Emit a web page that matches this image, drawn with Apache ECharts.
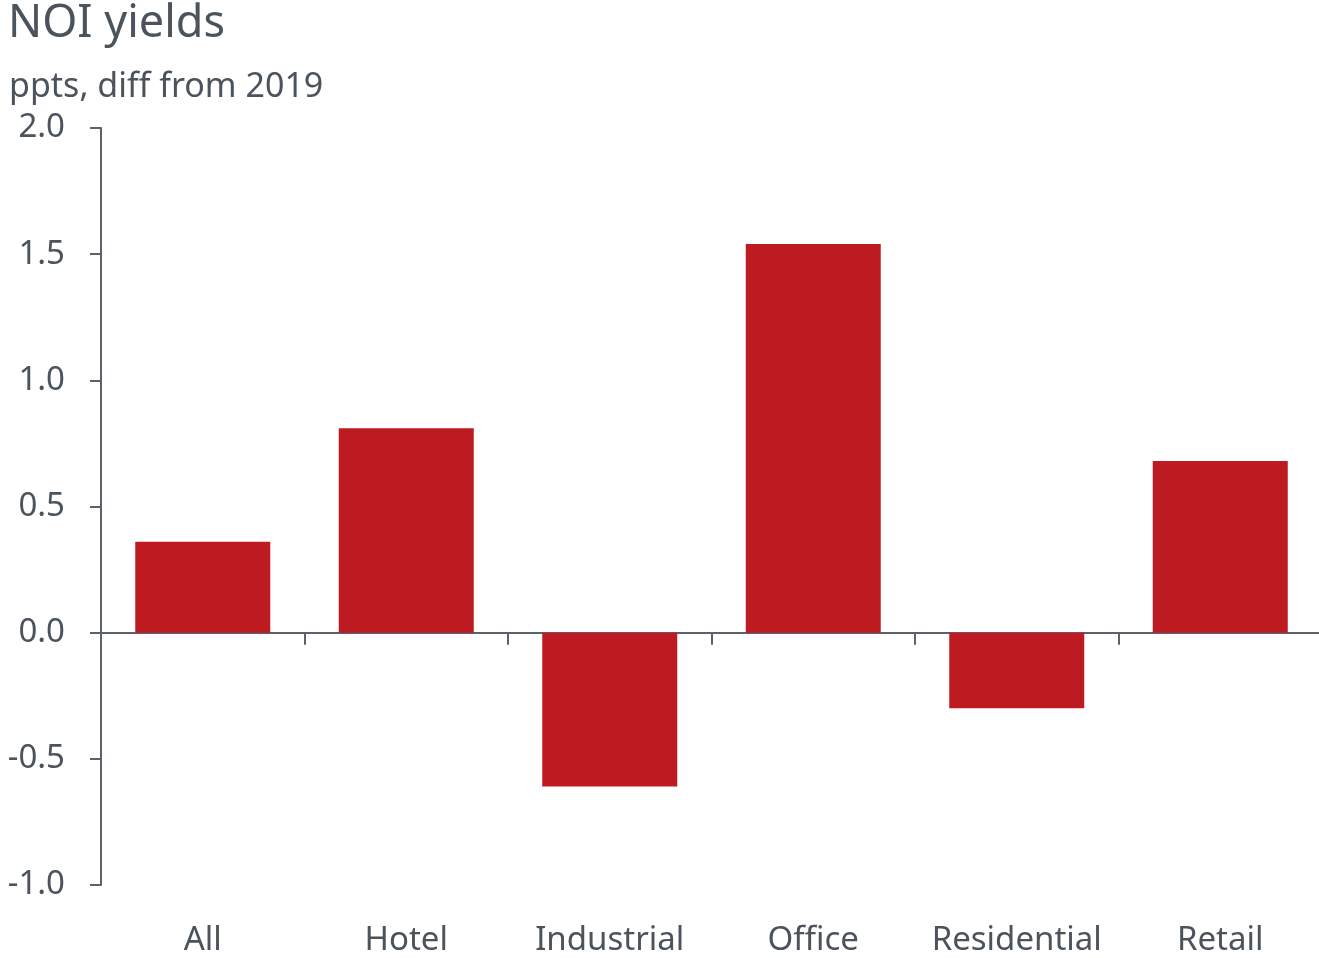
<!DOCTYPE html>
<html>
<head>
<meta charset="utf-8">
<script src="https://cdn.jsdelivr.net/npm/echarts@6/dist/echarts.min.js"></script>
<style>
html,body{margin:0;padding:0;background:#fff;overflow:hidden;}
#chart{width:1325px;height:958px;}
</style>
</head>
<body>
<div id="chart"></div>
<script>
const categories = ['All', 'Hotel', 'Industrial', 'Office', 'Residential', 'Retail'];
const values = [0.36, 0.81, -0.61, 1.54, -0.30, 0.68];
const yTicks = [-1.0, -0.5, 0.0, 0.5, 1.0, 1.5, 2.0];

const textColor = '#4b535c';
const axisColor = '#5b6269';
const fontFamily = '"Noto Sans", "Open Sans", sans-serif';

const chart = echarts.init(document.getElementById('chart'));
chart.setOption({
  backgroundColor: '#ffffff',
  animation: false,
  title: [
    { text: 'NOI yields', left: 3, top: -3,
      textStyle: { fontFamily, fontSize: 45, fontWeight: 'normal', color: textColor } },
    { text: 'ppts, diff from 2019', left: 4, top: 65,
      textStyle: { fontFamily, fontSize: 34, fontWeight: 'normal', color: textColor } }
  ],
  grid: { left: 101, width: 1221, top: 128, bottom: 73, containLabel: false },
  xAxis: [
    {
      type: 'category', data: categories, position: 'bottom',
      axisLine: { onZero: true, lineStyle: { color: axisColor, width: 2 } },
      axisTick: { show: true, length: 12, lineStyle: { color: axisColor, width: 2 } },
      axisLabel: { show: false }
    },
    {
      type: 'category', data: categories, position: 'bottom',
      axisLine: { show: false, onZero: false },
      axisTick: { show: false },
      axisLabel: { show: true, interval: 0, margin: 39, fontFamily, fontSize: 33, color: textColor }
    }
  ],
  yAxis: {
    type: 'value', min: yTicks[0], max: yTicks[yTicks.length - 1], interval: 0.5,
    axisLine: { show: true, lineStyle: { color: axisColor, width: 2 } },
    axisTick: { show: true, inside: false, length: 11, lineStyle: { color: axisColor, width: 2 } },
    splitLine: { show: false },
    axisLabel: { margin: 36, fontFamily, fontSize: 33, color: textColor,
      formatter: v => v.toFixed(1) }
  },
  series: [{
    type: 'bar', xAxisIndex: 0, data: values, barWidth: 135,
    itemStyle: { color: '#be1a22' }
  }]
});
</script>
</body>
</html>
